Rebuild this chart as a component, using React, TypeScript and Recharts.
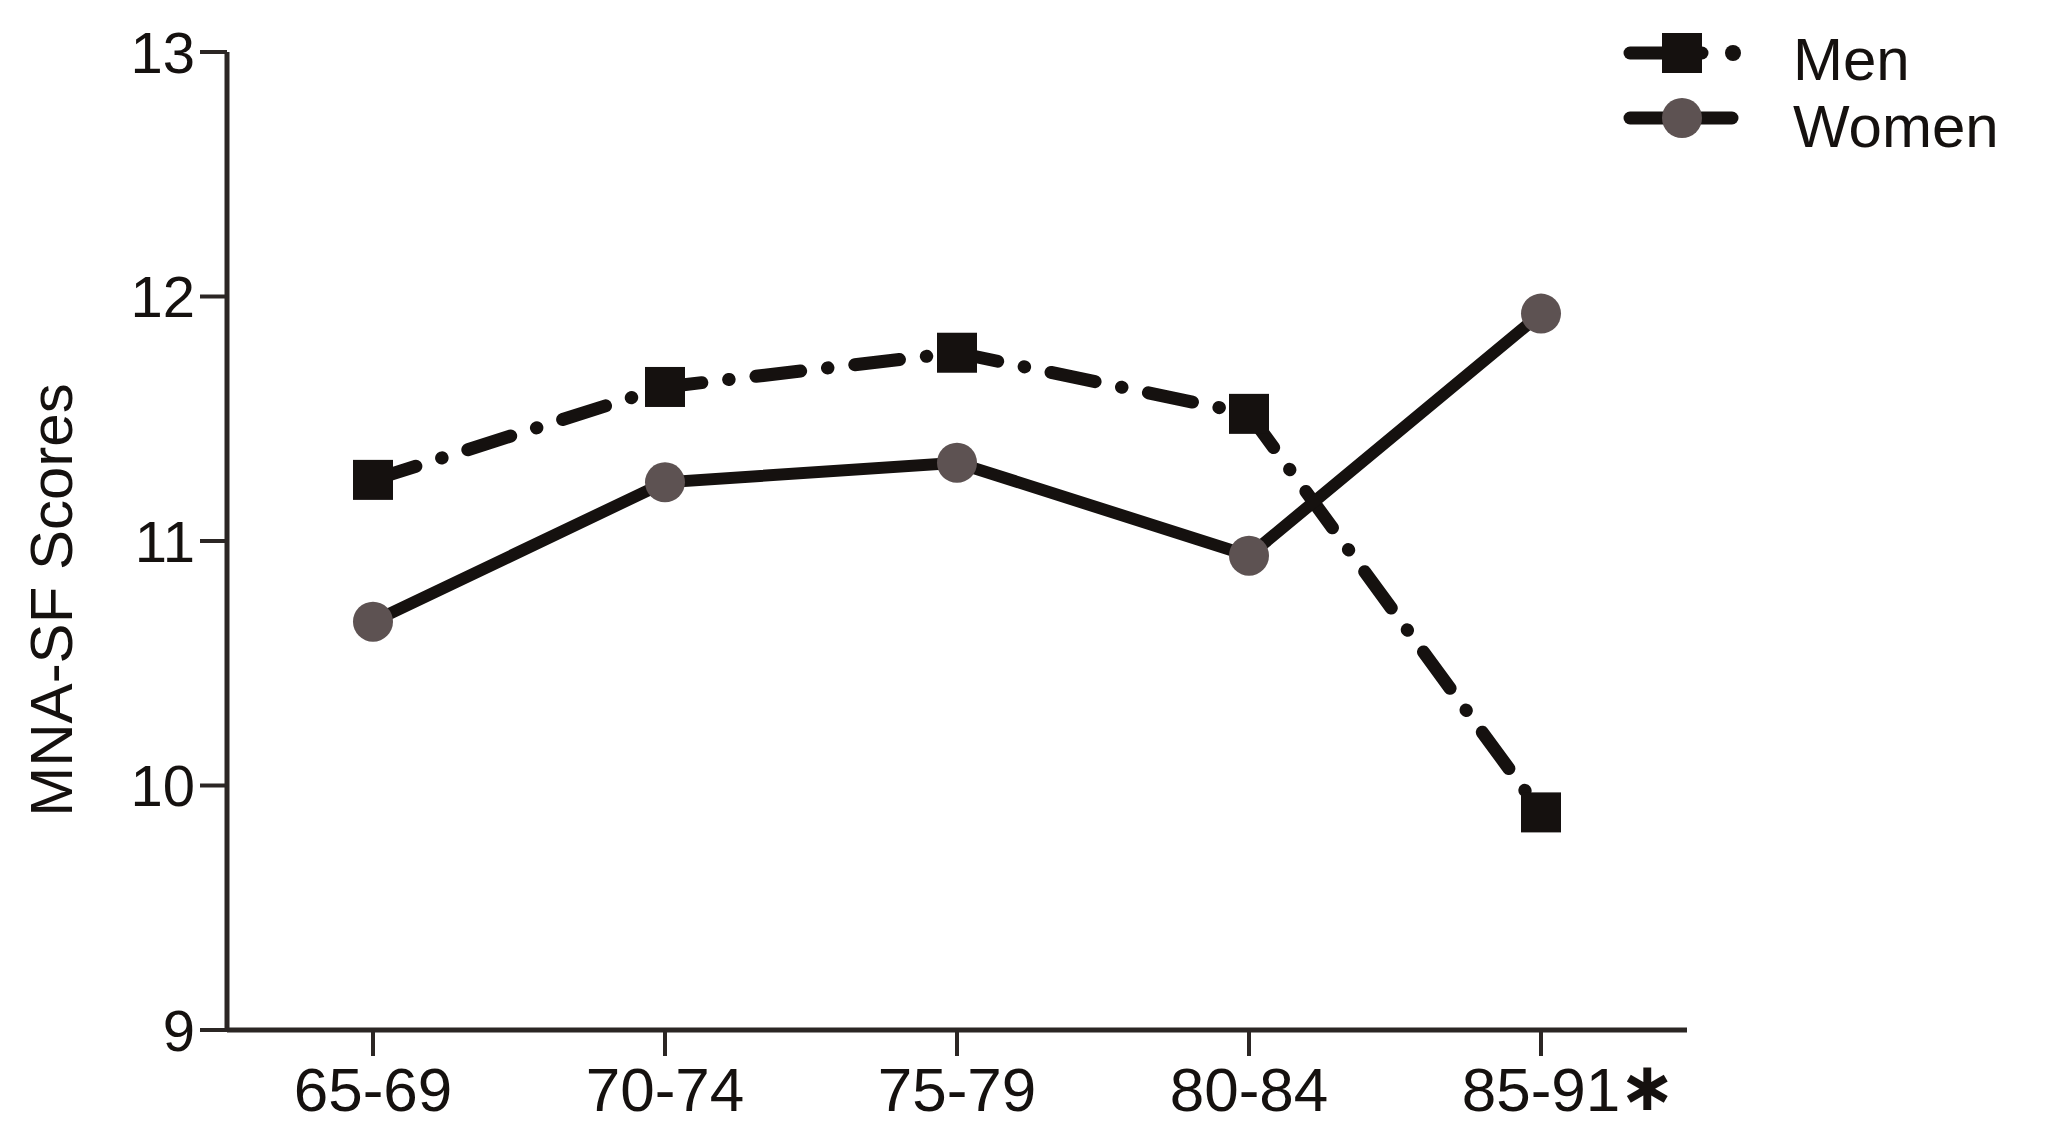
import React from "react";
import { LineChart, Line, XAxis, YAxis, Legend } from "recharts";

const ageGroups = ["65-69", "70-74", "75-79", "80-84", "85-91"];
const menScores = [11.25, 11.63, 11.77, 11.52, 9.89];
const womenScores = [10.67, 11.24, 11.32, 10.94, 11.93];
const flaggedGroups = ["85-91"]; // marked with * on the axis
const yTicks = [9, 10, 11, 12, 13];

const data = ageGroups.map((group, i) => ({
    group,
    men: menScores[i],
    women: womenScores[i],
}));

const INK = "#15110f";
const AXIS = "#2b2624";
const WOMEN_FILL = "#5d5252";
const FONT = "'Liberation Sans', Arial, Helvetica, sans-serif";
const MEN_DASH = "45 27 0.5 27";

const SquareDot = (props: any) => {
    const { cx, cy, index } = props;
    if (cx == null || cy == null) return null;
    return <rect key={`sq-${index}`} x={cx - 20} y={cy - 20} width={40} height={40} fill={INK} />;
};

const CircleDot = (props: any) => {
    const { cx, cy, index } = props;
    if (cx == null || cy == null) return null;
    return <circle key={`ci-${index}`} cx={cx} cy={cy} r={20} fill={WOMEN_FILL} />;
};

const AgeTick = (props: any) => {
    const { x, y, payload } = props;
    const flagged = flaggedGroups.includes(payload.value);
    return (
        <g>
            <text x={x} y={y} dy="0.71em" textAnchor="middle" fontSize={62} fill={INK} fontFamily={FONT}>
                {payload.value}
            </text>
            {flagged && (
                <text
                    x={x + 78}
                    y={y + 19}
                    dominantBaseline="central"
                    textAnchor="start"
                    fontSize={68}
                    fontWeight="bold"
                    fill={INK}
                    fontFamily="'DejaVu Sans', sans-serif"
                >
                    ∗
                </text>
            )}
        </g>
    );
};

const YLabel = () => (
    <text
        x={72}
        y={600}
        transform="rotate(-90 72 600)"
        textAnchor="middle"
        fontSize={60}
        fill={INK}
        fontFamily={FONT}
    >
        MNA-SF Scores
    </text>
);

const LegendBox = (props: any) => {
    const items = props.payload || [];
    return (
        <svg width={447} height={170}>
            {items.map((item: any, i: number) => {
                const cy = 53 + i * 65;
                const isMen = item.dataKey === "men";
                return (
                    <g key={item.dataKey}>
                        {isMen ? (
                            <>
                                <line x1={30} y1={cy} x2={102} y2={cy} stroke={INK} strokeWidth={13} strokeLinecap="round" />
                                <rect x={62} y={cy - 20} width={40} height={40} fill={INK} />
                                <circle cx={133} cy={cy} r={8} fill={INK} />
                            </>
                        ) : (
                            <>
                                <line x1={30} y1={cy} x2={132} y2={cy} stroke={INK} strokeWidth={13} strokeLinecap="round" />
                                <circle cx={82} cy={cy} r={20} fill={WOMEN_FILL} />
                            </>
                        )}
                        <text x={193} y={80 + i * 67} fontSize={60} fill={INK} fontFamily={FONT}>
                            {item.value}
                        </text>
                    </g>
                );
            })}
        </svg>
    );
};

export default function App() {
    return (
        <div style={{ position: "absolute", left: 0, top: 0, width: 2047, height: 1136, background: "#fff" }}>
            <LineChart
                width={2047}
                height={1136}
                data={data}
                margin={{ top: 52, right: 360, bottom: 0, left: 0 }}
                style={{ fontFamily: FONT }}
            >
                <XAxis
                    dataKey="group"
                    padding={{ left: 146, right: 146 }}
                    height={106}
                    axisLine={{ stroke: AXIS, strokeWidth: 5 }}
                    tickLine={{ stroke: AXIS, strokeWidth: 4 }}
                    tickSize={26}
                    tickMargin={11}
                    tick={<AgeTick />}
                    interval={0}
                />
                <YAxis
                    domain={[9, 13]}
                    ticks={yTicks}
                    width={227}
                    axisLine={{ stroke: AXIS, strokeWidth: 5 }}
                    tickLine={{ stroke: AXIS, strokeWidth: 4 }}
                    tickSize={27}
                    tickMargin={5}
                    tick={{ fontSize: 58, fill: INK, fontFamily: FONT }}
                    label={<YLabel />}
                />
                <Legend
                    layout="horizontal"
                    verticalAlign="middle"
                    align="center"
                    content={<LegendBox />}
                    wrapperStyle={{ left: 1600, top: 0, width: 447, height: 170 }}
                />
                <Line
                    dataKey="men"
                    name="Men"
                    stroke={INK}
                    strokeWidth={13}
                    strokeDasharray={MEN_DASH}
                    strokeLinecap="round"
                    dot={SquareDot}
                    activeDot={false}
                    isAnimationActive={false}
                />
                <Line
                    dataKey="women"
                    name="Women"
                    stroke={INK}
                    strokeWidth={12}
                    dot={CircleDot}
                    activeDot={false}
                    isAnimationActive={false}
                />
            </LineChart>
        </div>
    );
}
